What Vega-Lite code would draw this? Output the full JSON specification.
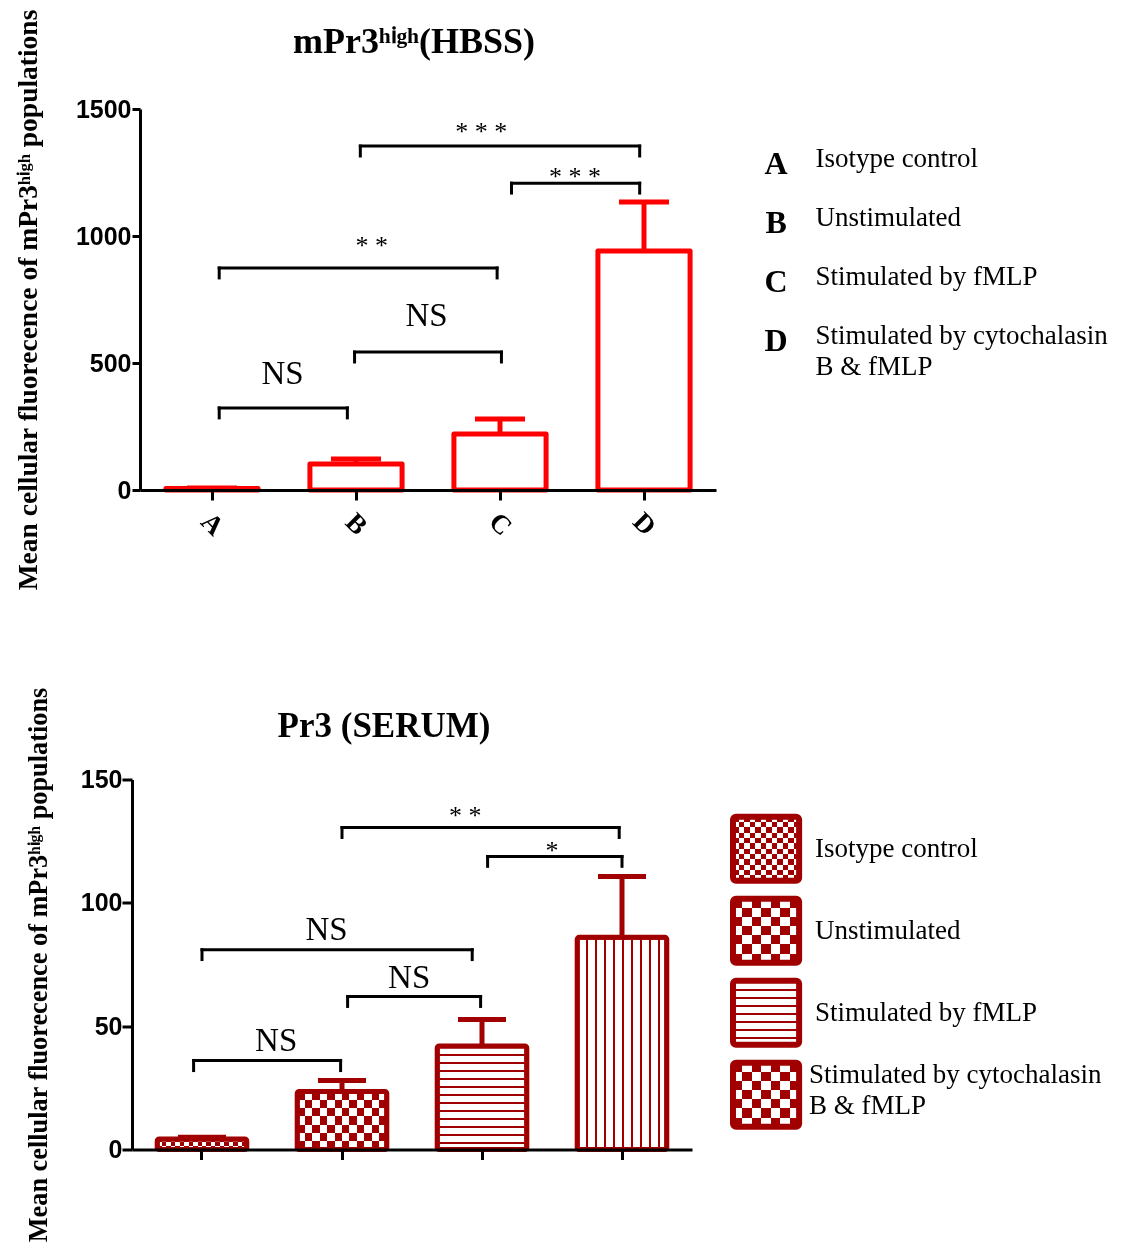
{
  "$schema": "https://vega.github.io/schema/vega-lite/v6.json",
  "background": "white",
  "padding": {"left": 14, "top": 8, "right": 5, "bottom": 0},
  "config": {"view": {"stroke": null}, "axis": {"grid": false}},
  "columns": 1,
  "align": "none",
  "spacing": 95.5,
  "datasets": {
    "top_bars": [
      {"g": "A", "v": 6, "hi": 8},
      {"g": "B", "v": 102, "hi": 122},
      {"g": "C", "v": 220, "hi": 280},
      {"g": "D", "v": 941, "hi": 1134}
    ],
    "top_brackets": [
      {"x1": 0.55, "x2": 1.44, "y": 323, "yb": 284, "lx": 0.99, "ly": 417, "label": "NS"},
      {"x1": 1.49, "x2": 2.51, "y": 543, "yb": 504, "lx": 1.99, "ly": 646, "label": "NS"},
      {"x1": 0.55, "x2": 2.48, "y": 874, "yb": 835, "lx": 1.61, "ly": 929, "label": "* *"},
      {"x1": 1.53, "x2": 3.47, "y": 1354, "yb": 1315, "lx": 2.37, "ly": 1378, "label": "* * *"},
      {"x1": 2.58, "x2": 3.47, "y": 1208, "yb": 1169, "lx": 3.02, "ly": 1201, "label": "* * *"}
    ],
    "top_legend": [
      {"key": "A", "desc": "Isotype control"},
      {"key": "B", "desc": "Unstimulated"},
      {"key": "C", "desc": "Stimulated by fMLP"},
      {"key": "D", "desc": "Stimulated by cytochalasin\nB & fMLP"}
    ],
    "bot_bars": [
      {"g": "A", "v": 4.3, "hi": 5},
      {"g": "B", "v": 23.5, "hi": 28},
      {"g": "C", "v": 42, "hi": 52.7},
      {"g": "D", "v": 86, "hi": 110.7}
    ],
    "bot_brackets": [
      {"x1": 0.44, "x2": 1.49, "y": 36.1, "yb": 32, "lx": 1.03, "ly": 40, "label": "NS"},
      {"x1": 1.54, "x2": 2.49, "y": 62, "yb": 58, "lx": 1.98, "ly": 65.3, "label": "NS"},
      {"x1": 0.5, "x2": 2.43, "y": 81, "yb": 77, "lx": 1.39, "ly": 85.1, "label": "NS"},
      {"x1": 1.5, "x2": 3.48, "y": 130.5, "yb": 126.5, "lx": 2.38, "ly": 131.8, "label": "* *"},
      {"x1": 2.54, "x2": 3.5, "y": 118.8, "yb": 114.8, "lx": 3.0, "ly": 117.6, "label": "*"}
    ],
    "bot_legend": [
      {"key": "A", "desc": "Isotype control"},
      {"key": "B", "desc": "Unstimulated"},
      {"key": "C", "desc": "Stimulated by fMLP"},
      {"key": "D", "desc": "Stimulated by cytochalasin\nB & fMLP"}
    ]
  },
  "concat": [
    {
      "spacing": 40,
      "hconcat": [
        {
          "width": 576,
          "height": 381,
          "title": {"text": "mPr3ʰⁱᵍʰ(HBSS)", "frame": "group", "dx": -14, "offset": -52, "fontSize": 36, "font": "Liberation Serif", "fontWeight": "bold", "color": "black"},
          "resolve": {"scale": {"x": "independent"}},
          "layer": [
            {
              "data": {"name": "top_bars"},
              "layer": [
                {
                  "mark": {"type": "bar", "fill": "white", "fillOpacity": 0, "stroke": "#ff0000", "strokeWidth": 5, "strokeJoin": "round"},
                  "encoding": {
                    "x": {"field": "g", "type": "nominal", "scale": {"paddingInner": 0.36, "paddingOuter": 0.18},
                      "axis": {"title": null, "labelAngle": 45, "labelAlign": "center", "labelBaseline": "middle", "labelFont": "Liberation Serif", "labelFontWeight": "bold", "labelFontSize": 27, "labelColor": "black", "labelPadding": 24, "tickSize": 10, "tickWidth": 3, "tickColor": "black", "domainColor": "black", "domainWidth": 3, "zindex": 1}},
                    "y": {"field": "v", "type": "quantitative", "scale": {"domain": [0, 1500], "nice": false},
                      "axis": {"title": "Mean cellular fluorecence of mPr3ʰⁱᵍʰ populations", "values": [0, 500, 1000, 1500], "format": "d", "grid": false, "tickSize": 8, "tickWidth": 3, "tickColor": "black", "domainColor": "black", "domainWidth": 3, "labelFont": "Liberation Sans", "labelFontWeight": "bold", "labelFontSize": 25, "labelColor": "black", "labelPadding": 1, "titleFont": "Liberation Serif", "titleFontWeight": "bold", "titleFontSize": 27.5, "titleColor": "black", "titlePadding": 33, "zindex": 1}}
                  }
                },
                {
                  "mark": {"type": "rule", "stroke": "#ff0000", "strokeWidth": 5},
                  "encoding": {"x": {"field": "g", "type": "nominal"}, "y": {"field": "v", "type": "quantitative"}, "y2": {"field": "hi"}}
                },
                {
                  "mark": {"type": "tick", "color": "#ff0000", "size": 50, "thickness": 5, "opacity": 1},
                  "encoding": {"x": {"field": "g", "type": "nominal"}, "y": {"field": "hi", "type": "quantitative"}}
                }
              ]
            },
            {
              "data": {"name": "top_brackets"},
              "layer": [
                {
                  "mark": {"type": "rule", "stroke": "black", "strokeWidth": 3, "strokeCap": "square"},
                  "encoding": {"x": {"field": "x1", "type": "quantitative", "scale": {"domain": [0, 4], "nice": false, "zero": false}, "axis": null}, "x2": {"field": "x2"}, "y": {"field": "y", "type": "quantitative"}}
                },
                {
                  "mark": {"type": "rule", "stroke": "black", "strokeWidth": 3, "strokeCap": "square"},
                  "encoding": {"x": {"field": "x1", "type": "quantitative", "axis": null}, "y": {"field": "y", "type": "quantitative"}, "y2": {"field": "yb"}}
                },
                {
                  "mark": {"type": "rule", "stroke": "black", "strokeWidth": 3, "strokeCap": "square"},
                  "encoding": {"x": {"field": "x2", "type": "quantitative", "axis": null}, "y": {"field": "y", "type": "quantitative"}, "y2": {"field": "yb"}}
                },
                {
                  "mark": {"type": "text", "font": "Liberation Serif", "baseline": "alphabetic", "align": "center", "color": "black"},
                  "encoding": {"x": {"field": "lx", "type": "quantitative", "axis": null}, "y": {"field": "ly", "type": "quantitative"}, "text": {"field": "label"},
                    "size": {"condition": {"test": "datum.label === 'NS'", "value": 33}, "value": 26}}
                }
              ]
            }
          ]
        },
        {
          "width": 360,
          "height": 381,
          "data": {"name": "top_legend"},
          "encoding": {"y": {"field": "key", "type": "nominal", "axis": null, "scale": {"type": "band", "paddingInner": 0, "paddingOuter": 0, "range": [26, 261]}}},
          "layer": [
            {
              "mark": {"type": "text", "font": "Liberation Serif", "fontWeight": "bold", "fontSize": 32, "align": "center", "baseline": "middle", "color": "black"},
              "encoding": {"x": {"datum": 0.056, "type": "quantitative", "scale": {"domain": [0, 1]}, "axis": null}, "text": {"field": "key"}}
            },
            {
              "mark": {"type": "text", "font": "Liberation Serif", "fontSize": 27, "align": "left", "baseline": "top", "dy": -18, "lineBreak": "\n", "lineHeight": 31, "color": "black"},
              "encoding": {"x": {"datum": 0.165, "type": "quantitative", "axis": null}, "text": {"field": "desc"}}
            }
          ]
        }
      ]
    },
    {
      "spacing": 30,
      "hconcat": [
        {
          "width": 552,
          "height": 370,
          "title": {"text": "Pr3 (SERUM)", "frame": "group", "dx": -32, "offset": -57, "fontSize": 35, "font": "Liberation Serif", "fontWeight": "bold", "color": "black"},
          "resolve": {"scale": {"x": "independent"}},
          "layer": [
            {
              "data": {"name": "bot_bars"},
              "layer": [
                {
                  "transform": [{"filter": "datum.g === 'A'"}],
                  "mark": {"type": "bar", "fill": {"gradient": "linear", "x1": 0, "y1": 0, "x2": 0, "y2": 1, "stops": [
                    {"offset": 0, "color": "black"}, {"offset": 0.3333, "color": "black"}, {"offset": 0.3333, "color": "white"}, {"offset": 0.6667, "color": "white"}, {"offset": 0.6667, "color": "black"}, {"offset": 1, "color": "black"}]}},
                  "encoding": {
                    "x": {"field": "g", "type": "nominal", "scale": {"paddingInner": 0.36, "paddingOuter": 0.18, "range": [-8, 552]},
                      "axis": {"title": null, "labels": false, "tickSize": 10, "tickWidth": 3, "tickColor": "black", "domainColor": "black", "domainWidth": 3, "zindex": 1}},
                    "y": {"field": "v", "type": "quantitative", "scale": {"domain": [0, 150], "nice": false},
                      "axis": {"title": "Mean cellular fluorecence of mPr3ʰⁱᵍʰ populations", "offset": 8, "values": [0, 50, 100, 150], "format": "d", "grid": false, "tickSize": 10, "tickWidth": 3, "tickColor": "black", "domainColor": "black", "domainWidth": 3, "labelFont": "Liberation Sans", "labelFontWeight": "bold", "labelFontSize": 25, "labelColor": "black", "labelPadding": 0, "titleFont": "Liberation Serif", "titleFontWeight": "bold", "titleFontSize": 26.3, "titleColor": "black", "titlePadding": 28, "zindex": 1}}
                  }
                },
                {
                  "transform": [{"filter": "datum.g === 'B'"}],
                  "mark": {"type": "bar", "fill": {"gradient": "linear", "x1": 0, "y1": 0, "x2": 0, "y2": 1, "stops": [
                    {"offset": 0, "color": "black"}, {"offset": 0.1429, "color": "black"}, {"offset": 0.1429, "color": "white"}, {"offset": 0.2857, "color": "white"}, {"offset": 0.2857, "color": "black"}, {"offset": 0.4286, "color": "black"}, {"offset": 0.4286, "color": "white"}, {"offset": 0.5714, "color": "white"}, {"offset": 0.5714, "color": "black"}, {"offset": 0.7143, "color": "black"}, {"offset": 0.7143, "color": "white"}, {"offset": 0.8571, "color": "white"}, {"offset": 0.8571, "color": "black"}, {"offset": 1, "color": "black"}]}},
                  "encoding": {"x": {"field": "g", "type": "nominal"}, "y": {"field": "v", "type": "quantitative"}}
                },
                {
                  "transform": [{"filter": "datum.g === 'A'"}],
                  "mark": {"type": "bar", "blend": "difference", "fill": {"gradient": "linear", "x1": 0, "y1": 0, "x2": 1, "y2": 0, "stops": [
                    {"offset": 0, "color": "black"}, {"offset": 0.05, "color": "black"}, {"offset": 0.05, "color": "white"}, {"offset": 0.1, "color": "white"}, {"offset": 0.1, "color": "black"}, {"offset": 0.15, "color": "black"}, {"offset": 0.15, "color": "white"}, {"offset": 0.2, "color": "white"}, {"offset": 0.2, "color": "black"}, {"offset": 0.25, "color": "black"}, {"offset": 0.25, "color": "white"}, {"offset": 0.3, "color": "white"}, {"offset": 0.3, "color": "black"}, {"offset": 0.35, "color": "black"}, {"offset": 0.35, "color": "white"}, {"offset": 0.4, "color": "white"}, {"offset": 0.4, "color": "black"}, {"offset": 0.45, "color": "black"}, {"offset": 0.45, "color": "white"}, {"offset": 0.5, "color": "white"}, {"offset": 0.5, "color": "black"}, {"offset": 0.55, "color": "black"}, {"offset": 0.55, "color": "white"}, {"offset": 0.6, "color": "white"}, {"offset": 0.6, "color": "black"}, {"offset": 0.65, "color": "black"}, {"offset": 0.65, "color": "white"}, {"offset": 0.7, "color": "white"}, {"offset": 0.7, "color": "black"}, {"offset": 0.75, "color": "black"}, {"offset": 0.75, "color": "white"}, {"offset": 0.8, "color": "white"}, {"offset": 0.8, "color": "black"}, {"offset": 0.85, "color": "black"}, {"offset": 0.85, "color": "white"}, {"offset": 0.9, "color": "white"}, {"offset": 0.9, "color": "black"}, {"offset": 0.95, "color": "black"}, {"offset": 0.95, "color": "white"}, {"offset": 1, "color": "white"}]}},
                  "encoding": {"x": {"field": "g", "type": "nominal"}, "y": {"field": "v", "type": "quantitative"}}
                },
                {
                  "transform": [{"filter": "datum.g === 'B'"}],
                  "mark": {"type": "bar", "blend": "difference", "fill": {"gradient": "linear", "x1": 0, "y1": 0, "x2": 1, "y2": 0, "stops": [
                    {"offset": 0, "color": "black"}, {"offset": 0.0833, "color": "black"}, {"offset": 0.0833, "color": "white"}, {"offset": 0.1667, "color": "white"}, {"offset": 0.1667, "color": "black"}, {"offset": 0.25, "color": "black"}, {"offset": 0.25, "color": "white"}, {"offset": 0.3333, "color": "white"}, {"offset": 0.3333, "color": "black"}, {"offset": 0.4167, "color": "black"}, {"offset": 0.4167, "color": "white"}, {"offset": 0.5, "color": "white"}, {"offset": 0.5, "color": "black"}, {"offset": 0.5833, "color": "black"}, {"offset": 0.5833, "color": "white"}, {"offset": 0.6667, "color": "white"}, {"offset": 0.6667, "color": "black"}, {"offset": 0.75, "color": "black"}, {"offset": 0.75, "color": "white"}, {"offset": 0.8333, "color": "white"}, {"offset": 0.8333, "color": "black"}, {"offset": 0.9167, "color": "black"}, {"offset": 0.9167, "color": "white"}, {"offset": 1, "color": "white"}]}},
                  "encoding": {"x": {"field": "g", "type": "nominal"}, "y": {"field": "v", "type": "quantitative"}}
                },
                {
                  "transform": [{"filter": "datum.g === 'A' || datum.g === 'B'"}],
                  "mark": {"type": "bar", "blend": "screen", "fill": "#a00000"},
                  "encoding": {"x": {"field": "g", "type": "nominal"}, "y": {"field": "v", "type": "quantitative"}}
                },
                {
                  "transform": [{"filter": "datum.g === 'C'"}],
                  "mark": {"type": "bar", "fill": {"gradient": "linear", "x1": 0, "y1": 0, "x2": 0, "y2": 1, "stops": [
                    {"offset": 0, "color": "#a00000"}, {"offset": 0.0231, "color": "#a00000"}, {"offset": 0.0231, "color": "white"}, {"offset": 0.0769, "color": "white"}, {"offset": 0.0769, "color": "#a00000"}, {"offset": 0.1, "color": "#a00000"}, {"offset": 0.1, "color": "white"}, {"offset": 0.1538, "color": "white"}, {"offset": 0.1538, "color": "#a00000"}, {"offset": 0.1769, "color": "#a00000"}, {"offset": 0.1769, "color": "white"}, {"offset": 0.2308, "color": "white"}, {"offset": 0.2308, "color": "#a00000"}, {"offset": 0.2539, "color": "#a00000"}, {"offset": 0.2539, "color": "white"}, {"offset": 0.3077, "color": "white"}, {"offset": 0.3077, "color": "#a00000"}, {"offset": 0.3308, "color": "#a00000"}, {"offset": 0.3308, "color": "white"}, {"offset": 0.3846, "color": "white"}, {"offset": 0.3846, "color": "#a00000"}, {"offset": 0.4077, "color": "#a00000"}, {"offset": 0.4077, "color": "white"}, {"offset": 0.4615, "color": "white"}, {"offset": 0.4615, "color": "#a00000"}, {"offset": 0.4846, "color": "#a00000"}, {"offset": 0.4846, "color": "white"}, {"offset": 0.5385, "color": "white"}, {"offset": 0.5385, "color": "#a00000"}, {"offset": 0.5616, "color": "#a00000"}, {"offset": 0.5616, "color": "white"}, {"offset": 0.6154, "color": "white"}, {"offset": 0.6154, "color": "#a00000"}, {"offset": 0.6385, "color": "#a00000"}, {"offset": 0.6385, "color": "white"}, {"offset": 0.6923, "color": "white"}, {"offset": 0.6923, "color": "#a00000"}, {"offset": 0.7154, "color": "#a00000"}, {"offset": 0.7154, "color": "white"}, {"offset": 0.7692, "color": "white"}, {"offset": 0.7692, "color": "#a00000"}, {"offset": 0.7923, "color": "#a00000"}, {"offset": 0.7923, "color": "white"}, {"offset": 0.8462, "color": "white"}, {"offset": 0.8462, "color": "#a00000"}, {"offset": 0.8693, "color": "#a00000"}, {"offset": 0.8693, "color": "white"}, {"offset": 0.9231, "color": "white"}, {"offset": 0.9231, "color": "#a00000"}, {"offset": 0.9462, "color": "#a00000"}, {"offset": 0.9462, "color": "white"}, {"offset": 1, "color": "white"}]}},
                  "encoding": {"x": {"field": "g", "type": "nominal"}, "y": {"field": "v", "type": "quantitative"}}
                },
                {
                  "transform": [{"filter": "datum.g === 'D'"}],
                  "mark": {"type": "bar", "fill": {"gradient": "linear", "x1": 0, "y1": 0, "x2": 1, "y2": 0, "stops": [
                    {"offset": 0, "color": "#a00000"}, {"offset": 0.025, "color": "#a00000"}, {"offset": 0.025, "color": "white"}, {"offset": 0.1, "color": "white"}, {"offset": 0.1, "color": "#a00000"}, {"offset": 0.125, "color": "#a00000"}, {"offset": 0.125, "color": "white"}, {"offset": 0.2, "color": "white"}, {"offset": 0.2, "color": "#a00000"}, {"offset": 0.225, "color": "#a00000"}, {"offset": 0.225, "color": "white"}, {"offset": 0.3, "color": "white"}, {"offset": 0.3, "color": "#a00000"}, {"offset": 0.325, "color": "#a00000"}, {"offset": 0.325, "color": "white"}, {"offset": 0.4, "color": "white"}, {"offset": 0.4, "color": "#a00000"}, {"offset": 0.425, "color": "#a00000"}, {"offset": 0.425, "color": "white"}, {"offset": 0.5, "color": "white"}, {"offset": 0.5, "color": "#a00000"}, {"offset": 0.525, "color": "#a00000"}, {"offset": 0.525, "color": "white"}, {"offset": 0.6, "color": "white"}, {"offset": 0.6, "color": "#a00000"}, {"offset": 0.625, "color": "#a00000"}, {"offset": 0.625, "color": "white"}, {"offset": 0.7, "color": "white"}, {"offset": 0.7, "color": "#a00000"}, {"offset": 0.725, "color": "#a00000"}, {"offset": 0.725, "color": "white"}, {"offset": 0.8, "color": "white"}, {"offset": 0.8, "color": "#a00000"}, {"offset": 0.825, "color": "#a00000"}, {"offset": 0.825, "color": "white"}, {"offset": 0.9, "color": "white"}, {"offset": 0.9, "color": "#a00000"}, {"offset": 0.925, "color": "#a00000"}, {"offset": 0.925, "color": "white"}, {"offset": 1, "color": "white"}]}},
                  "encoding": {"x": {"field": "g", "type": "nominal"}, "y": {"field": "v", "type": "quantitative"}}
                },
                {
                  "mark": {"type": "bar", "fill": "white", "fillOpacity": 0, "stroke": "#a00000", "strokeWidth": 5, "strokeJoin": "round", "cornerRadius": 2},
                  "encoding": {"x": {"field": "g", "type": "nominal"}, "y": {"field": "v", "type": "quantitative"}}
                },
                {
                  "mark": {"type": "rule", "stroke": "#a00000", "strokeWidth": 5},
                  "encoding": {"x": {"field": "g", "type": "nominal"}, "y": {"field": "v", "type": "quantitative"}, "y2": {"field": "hi"}}
                },
                {
                  "mark": {"type": "tick", "color": "#a00000", "size": 48, "thickness": 5, "opacity": 1},
                  "encoding": {"x": {"field": "g", "type": "nominal"}, "y": {"field": "hi", "type": "quantitative"}}
                }
              ]
            },
            {
              "data": {"name": "bot_brackets"},
              "layer": [
                {
                  "mark": {"type": "rule", "stroke": "black", "strokeWidth": 3, "strokeCap": "square"},
                  "encoding": {"x": {"field": "x1", "type": "quantitative", "scale": {"domain": [0, 4], "nice": false, "zero": false, "range": [-8, 552]}, "axis": null}, "x2": {"field": "x2"}, "y": {"field": "y", "type": "quantitative"}}
                },
                {
                  "mark": {"type": "rule", "stroke": "black", "strokeWidth": 3, "strokeCap": "square"},
                  "encoding": {"x": {"field": "x1", "type": "quantitative", "axis": null}, "y": {"field": "y", "type": "quantitative"}, "y2": {"field": "yb"}}
                },
                {
                  "mark": {"type": "rule", "stroke": "black", "strokeWidth": 3, "strokeCap": "square"},
                  "encoding": {"x": {"field": "x2", "type": "quantitative", "axis": null}, "y": {"field": "y", "type": "quantitative"}, "y2": {"field": "yb"}}
                },
                {
                  "mark": {"type": "text", "font": "Liberation Serif", "baseline": "alphabetic", "align": "center", "color": "black"},
                  "encoding": {"x": {"field": "lx", "type": "quantitative", "axis": null}, "y": {"field": "ly", "type": "quantitative"}, "text": {"field": "label"},
                    "size": {"condition": {"test": "datum.label === 'NS'", "value": 33}, "value": 26}}
                }
              ]
            }
          ]
        },
        {
          "width": 380,
          "height": 370,
          "data": {"name": "bot_legend"},
          "encoding": {"y": {"field": "key", "type": "nominal", "axis": null, "scale": {"type": "band", "paddingInner": 0.22, "paddingOuter": 0.366, "align": 0.62}}},
          "layer": [
            {
              "transform": [{"filter": "datum.key === 'A'"}],
              "mark": {"type": "rect", "fill": {"gradient": "linear", "x1": 0, "y1": 0, "x2": 0, "y2": 1, "stops": [
                {"offset": 0, "color": "black"}, {"offset": 0.0833, "color": "black"}, {"offset": 0.0833, "color": "white"}, {"offset": 0.1667, "color": "white"}, {"offset": 0.1667, "color": "black"}, {"offset": 0.25, "color": "black"}, {"offset": 0.25, "color": "white"}, {"offset": 0.3333, "color": "white"}, {"offset": 0.3333, "color": "black"}, {"offset": 0.4167, "color": "black"}, {"offset": 0.4167, "color": "white"}, {"offset": 0.5, "color": "white"}, {"offset": 0.5, "color": "black"}, {"offset": 0.5833, "color": "black"}, {"offset": 0.5833, "color": "white"}, {"offset": 0.6667, "color": "white"}, {"offset": 0.6667, "color": "black"}, {"offset": 0.75, "color": "black"}, {"offset": 0.75, "color": "white"}, {"offset": 0.8333, "color": "white"}, {"offset": 0.8333, "color": "black"}, {"offset": 0.9167, "color": "black"}, {"offset": 0.9167, "color": "white"}, {"offset": 1, "color": "white"}]}},
              "encoding": {"x": {"datum": 0, "type": "quantitative", "scale": {"domain": [0, 1]}, "axis": null}, "x2": {"datum": 0.174}}
            },
            {
              "transform": [{"filter": "datum.key === 'B' || datum.key === 'D'"}],
              "mark": {"type": "rect", "fill": {"gradient": "linear", "x1": 0, "y1": 0, "x2": 0, "y2": 1, "stops": [
                {"offset": 0, "color": "black"}, {"offset": 0.1429, "color": "black"}, {"offset": 0.1429, "color": "white"}, {"offset": 0.2857, "color": "white"}, {"offset": 0.2857, "color": "black"}, {"offset": 0.4286, "color": "black"}, {"offset": 0.4286, "color": "white"}, {"offset": 0.5714, "color": "white"}, {"offset": 0.5714, "color": "black"}, {"offset": 0.7143, "color": "black"}, {"offset": 0.7143, "color": "white"}, {"offset": 0.8571, "color": "white"}, {"offset": 0.8571, "color": "black"}, {"offset": 1, "color": "black"}]}},
              "encoding": {"x": {"datum": 0, "type": "quantitative", "axis": null}, "x2": {"datum": 0.174}}
            },
            {
              "transform": [{"filter": "datum.key === 'A'"}],
              "mark": {"type": "rect", "blend": "difference", "fill": {"gradient": "linear", "x1": 0, "y1": 0, "x2": 1, "y2": 0, "stops": [
                {"offset": 0, "color": "black"}, {"offset": 0.0833, "color": "black"}, {"offset": 0.0833, "color": "white"}, {"offset": 0.1667, "color": "white"}, {"offset": 0.1667, "color": "black"}, {"offset": 0.25, "color": "black"}, {"offset": 0.25, "color": "white"}, {"offset": 0.3333, "color": "white"}, {"offset": 0.3333, "color": "black"}, {"offset": 0.4167, "color": "black"}, {"offset": 0.4167, "color": "white"}, {"offset": 0.5, "color": "white"}, {"offset": 0.5, "color": "black"}, {"offset": 0.5833, "color": "black"}, {"offset": 0.5833, "color": "white"}, {"offset": 0.6667, "color": "white"}, {"offset": 0.6667, "color": "black"}, {"offset": 0.75, "color": "black"}, {"offset": 0.75, "color": "white"}, {"offset": 0.8333, "color": "white"}, {"offset": 0.8333, "color": "black"}, {"offset": 0.9167, "color": "black"}, {"offset": 0.9167, "color": "white"}, {"offset": 1, "color": "white"}]}},
              "encoding": {"x": {"datum": 0, "type": "quantitative", "axis": null}, "x2": {"datum": 0.174}}
            },
            {
              "transform": [{"filter": "datum.key === 'B' || datum.key === 'D'"}],
              "mark": {"type": "rect", "blend": "difference", "fill": {"gradient": "linear", "x1": 0, "y1": 0, "x2": 1, "y2": 0, "stops": [
                {"offset": 0, "color": "black"}, {"offset": 0.1429, "color": "black"}, {"offset": 0.1429, "color": "white"}, {"offset": 0.2857, "color": "white"}, {"offset": 0.2857, "color": "black"}, {"offset": 0.4286, "color": "black"}, {"offset": 0.4286, "color": "white"}, {"offset": 0.5714, "color": "white"}, {"offset": 0.5714, "color": "black"}, {"offset": 0.7143, "color": "black"}, {"offset": 0.7143, "color": "white"}, {"offset": 0.8571, "color": "white"}, {"offset": 0.8571, "color": "black"}, {"offset": 1, "color": "black"}]}},
              "encoding": {"x": {"datum": 0, "type": "quantitative", "axis": null}, "x2": {"datum": 0.174}}
            },
            {
              "transform": [{"filter": "datum.key !== 'C'"}],
              "mark": {"type": "rect", "blend": "screen", "fill": "#a00000"},
              "encoding": {"x": {"datum": 0, "type": "quantitative", "axis": null}, "x2": {"datum": 0.174}}
            },
            {
              "transform": [{"filter": "datum.key === 'C'"}],
              "mark": {"type": "rect", "fill": {"gradient": "linear", "x1": 0, "y1": 0, "x2": 0, "y2": 1, "stops": [
                {"offset": 0, "color": "#a00000"}, {"offset": 0.035, "color": "#a00000"}, {"offset": 0.035, "color": "white"}, {"offset": 0.125, "color": "white"}, {"offset": 0.125, "color": "#a00000"}, {"offset": 0.16, "color": "#a00000"}, {"offset": 0.16, "color": "white"}, {"offset": 0.25, "color": "white"}, {"offset": 0.25, "color": "#a00000"}, {"offset": 0.285, "color": "#a00000"}, {"offset": 0.285, "color": "white"}, {"offset": 0.375, "color": "white"}, {"offset": 0.375, "color": "#a00000"}, {"offset": 0.41, "color": "#a00000"}, {"offset": 0.41, "color": "white"}, {"offset": 0.5, "color": "white"}, {"offset": 0.5, "color": "#a00000"}, {"offset": 0.535, "color": "#a00000"}, {"offset": 0.535, "color": "white"}, {"offset": 0.625, "color": "white"}, {"offset": 0.625, "color": "#a00000"}, {"offset": 0.66, "color": "#a00000"}, {"offset": 0.66, "color": "white"}, {"offset": 0.75, "color": "white"}, {"offset": 0.75, "color": "#a00000"}, {"offset": 0.785, "color": "#a00000"}, {"offset": 0.785, "color": "white"}, {"offset": 0.875, "color": "white"}, {"offset": 0.875, "color": "#a00000"}, {"offset": 0.91, "color": "#a00000"}, {"offset": 0.91, "color": "white"}, {"offset": 1, "color": "white"}]}},
              "encoding": {"x": {"datum": 0, "type": "quantitative", "axis": null}, "x2": {"datum": 0.174}}
            },
            {
              "mark": {"type": "rect", "fill": "white", "fillOpacity": 0, "stroke": "#a00000", "strokeWidth": 6, "strokeJoin": "round", "cornerRadius": 3},
              "encoding": {"x": {"datum": 0, "type": "quantitative", "axis": null}, "x2": {"datum": 0.174}}
            },
            {
              "transform": [{"filter": "datum.key !== 'D'"}],
              "mark": {"type": "text", "font": "Liberation Serif", "fontSize": 27, "align": "left", "baseline": "middle", "color": "black"},
              "encoding": {"x": {"datum": 0.216, "type": "quantitative", "axis": null}, "text": {"field": "desc"}}
            },
            {
              "transform": [{"filter": "datum.key === 'D'"}],
              "mark": {"type": "text", "font": "Liberation Serif", "fontSize": 27, "align": "left", "baseline": "middle", "dy": -20, "dx": -6, "lineBreak": "\n", "lineHeight": 31, "color": "black"},
              "encoding": {"x": {"datum": 0.216, "type": "quantitative", "axis": null}, "text": {"field": "desc"}}
            }
          ]
        }
      ]
    }
  ]
}
